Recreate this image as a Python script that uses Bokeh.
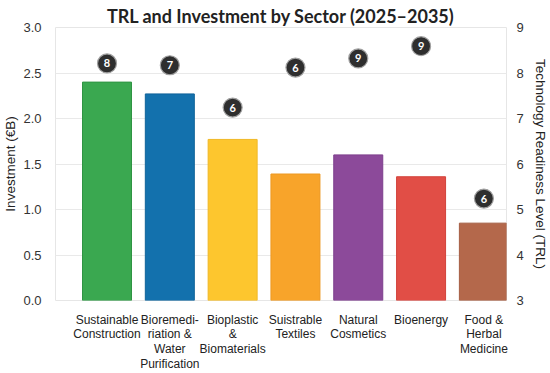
from bokeh.plotting import figure
from bokeh.models import Range1d, LinearAxis, FixedTicker, ColumnDataSource, NumeralTickFormatter
from bokeh.embed import file_html
from bokeh.resources import INLINE
from bokeh.core.properties import value

# ---- data ----
sectors = [
    "Sustainable\nConstruction",
    "Bioremedi-\nriation &\nWater\nPurification",
    "Bioplastic\n&\nBiomaterials",
    "Suistrable\nTextiles",
    "Natural\nCosmetics",
    "Bioenergy",
    "Food &\nHerbal\nMedicine",
]
investment = [2.40, 2.27, 1.77, 1.39, 1.60, 1.36, 0.85]
trl = [8, 7, 6, 6, 9, 9, 6]
trl_badge_level = [8.21, 8.17, 7.24, 8.12, 8.32, 8.59, 5.24]
bar_colors = ["#3aa850", "#1371ad", "#fdc62e", "#f8a42a", "#8c4a9a", "#e14e46", "#b4684b"]
edge_colors = ["#2f9443", "#0f6299", "#f0b826", "#ec9822", "#7d3f8c", "#d2433c", "#a45d42"]
left_ticks = [0.0, 0.5, 1.0, 1.5, 2.0, 2.5, 3.0]
right_ticks = [3, 4, 5, 6, 7, 8, 9]

xs = list(range(len(sectors)))
src = ColumnDataSource(dict(
    x=xs, inv=investment, trl=[str(t) for t in trl], badge=trl_badge_level,
    color=bar_colors, edge=edge_colors,
))

FONT = "Liberation Sans"

p = figure(
    width=550, height=373,
    output_backend="svg", toolbar_location=None,
    x_range=Range1d(-0.82, 6.36), y_range=Range1d(0, 3),
    min_border_left=50, min_border_right=37, min_border_top=27, min_border_bottom=71,
    title="TRL and Investment by Sector (2025\u20132035)",
)
p.extra_y_ranges = {"trl": Range1d(3, 9)}

p.title.align = "center"
p.title.text_font = "Lato"
p.title.text_font_size = "18px"
p.title.text_font_style = "bold"
p.title.text_color = "#222222"
p.title.standoff = 1
p.title.offset = 0

p.background_fill_color = "white"
p.border_fill_color = "white"
p.outline_line_color = "#e6e6e6"
p.xgrid.grid_line_color = None
p.ygrid.grid_line_color = "#e9e9e9"
p.ygrid.ticker = FixedTicker(ticks=left_ticks)

p.vbar(x="x", top="inv", width=0.78, fill_color="color", line_color="edge",
       line_width=1, source=src)

p.scatter(x="x", y="badge", size=19, fill_color="#2e2e2e", line_color="#a0a0a0",
          line_width=1.2, y_range_name="trl", source=src)
p.text(x="x", y="badge", text="trl", text_align="center", text_baseline="middle",
       text_color="white", text_font=value("Lato"), text_font_style="bold",
       text_font_size="11px", y_range_name="trl", source=src)

# x axis
xa = p.xaxis[0]
xa.ticker = FixedTicker(ticks=xs)
xa.major_label_overrides = {i: s for i, s in zip(xs, sectors)}
xa.major_label_text_font = FONT
xa.major_label_text_font_size = "12px"
xa.major_label_text_line_height = 1.05
xa.major_label_text_color = "#222222"
xa.major_label_standoff = 6
xa.axis_line_color = None
xa.major_tick_line_color = None
xa.minor_tick_line_color = None

# left axis
ya = p.yaxis[0]
ya.ticker = FixedTicker(ticks=left_ticks)
ya.formatter = NumeralTickFormatter(format="0.0")
ya.axis_label = "Investment (\u20acB)"
ya.axis_label_text_font = FONT
ya.axis_label_text_font_size = "13.5px"
ya.axis_label_text_font_style = "normal"
ya.axis_label_text_color = "#222222"
ya.axis_label_standoff = 2
ya.major_label_text_font = FONT
ya.major_label_text_font_size = "13px"
ya.major_label_text_color = "#333333"
ya.major_label_standoff = 8
ya.axis_line_color = None
ya.major_tick_line_color = None
ya.minor_tick_line_color = None

# right axis
ra = LinearAxis(y_range_name="trl", ticker=FixedTicker(ticks=right_ticks),
                axis_label="Technology Readiness Level (TRL)")
ra.axis_label_text_font = FONT
ra.axis_label_text_font_size = "13.5px"
ra.axis_label_text_font_style = "normal"
ra.axis_label_text_color = "#222222"
ra.axis_label_standoff = 6
ra.major_label_text_font = FONT
ra.major_label_text_font_size = "13px"
ra.major_label_text_color = "#333333"
ra.major_label_standoff = 4
ra.axis_line_color = None
ra.major_tick_line_color = None
ra.minor_tick_line_color = None
p.add_layout(ra, "right")

open("out.html", "w").write(file_html(p, INLINE))
